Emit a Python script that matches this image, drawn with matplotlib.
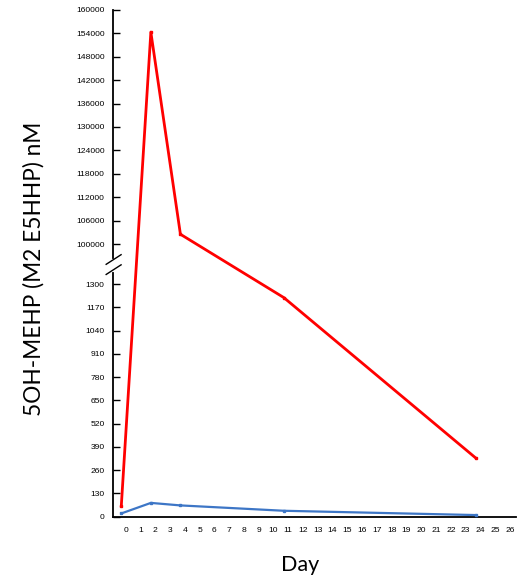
import numpy as np
import matplotlib
matplotlib.use('Agg')
import matplotlib.pyplot as plt
import matplotlib.transforms as mtransforms

# 5OH-MEHP concentration over time, broken y-axis (0-1300 / 100000-160000)
days = [0, 2, 4, 11, 24]
red_vals = [60, 154300, 102500, 1225, 327]
blue_vals = [18, 77, 63, 33, 9]

low_ticks = list(range(0, 1301, 130))
high_ticks = list(range(100000, 160001, 6000))
x_ticks = list(range(0, 27))

LOW_MAX = 1300
HIGH_MIN = 100000
GAP = 1.73      # break gap, in tick-spacing units
K = 23.4 / 23.24


def fwd(y):
    y = np.asarray(y, dtype=float)
    return np.where(y <= LOW_MAX, y / 130,
                    np.where(y < HIGH_MIN,
                             10 + (y - LOW_MAX) / (HIGH_MIN - LOW_MAX) * GAP,
                             10 + GAP + (y - HIGH_MIN) / 6000 * K))


def inv(u):
    u = np.asarray(u, dtype=float)
    return np.where(u <= 10, u * 130,
                    np.where(u < 10 + GAP,
                             LOW_MAX + (u - 10) / GAP * (HIGH_MIN - LOW_MAX),
                             HIGH_MIN + (u - 10 - GAP) / K * 6000))


fig = plt.figure(figsize=(5.23, 5.78), dpi=100)
ax = fig.add_axes([0.2161, 0.1061, 0.7706, 0.8767])

ax.plot(days, red_vals, color='#FF0000', lw=2.0, marker='s', ms=2, zorder=3)
ax.plot(days, blue_vals, color='#3D76C6', lw=1.6, marker='s', ms=1.8, zorder=3)

ax.set_yscale('function', functions=(fwd, inv))
ax.set_ylim(0, 160000)
ax.set_xlim(-0.56, 26.71)

ax.set_yticks(low_ticks + high_ticks)
ax.set_yticklabels([str(v) for v in low_ticks + high_ticks])
ax.set_yticks([], minor=True)
ax.set_xticks(x_ticks)
ax.set_xticklabels([str(v) for v in x_ticks])

for s in ['top', 'right']:
    ax.spines[s].set_visible(False)
for s in ['left', 'bottom']:
    ax.spines[s].set_linewidth(1.3)

ax.tick_params(axis='y', direction='in', length=5, width=1, pad=6,
               labelsize=6.1, labelfontfamily='Liberation Sans')
ax.tick_params(axis='x', length=0, pad=7.5, labelsize=6.1,
               labelfontfamily='Liberation Sans')

# shift x tick labels slightly right, like the original
offset = mtransforms.ScaledTranslation(4.4 / 100, 0, fig.dpi_scale_trans)
for lab in ax.get_xticklabels():
    lab.set_transform(lab.get_transform() + offset)

# axis break marks
tr = ax.transAxes
ax.plot([0, 0], [0.487, 0.505], transform=tr, color='white', lw=3, clip_on=False, zorder=5)
ax.plot([-0.017, 0.02], [0.498, 0.517], transform=tr, color='black', lw=1, clip_on=False, zorder=6)
ax.plot([-0.017, 0.02], [0.478, 0.497], transform=tr, color='black', lw=1, clip_on=False, zorder=6)

ax.set_ylabel('5OH-MEHP (M2 E5HHP) nM', fontsize=16.3, family='Lato')
ax.yaxis.set_label_coords(-0.169, 0.489)
ax.set_xlabel('Day', fontsize=15.5, family='Lato')
ax.xaxis.set_label_coords(0.464, -0.076)

fig.savefig('out.png', dpi=100)
